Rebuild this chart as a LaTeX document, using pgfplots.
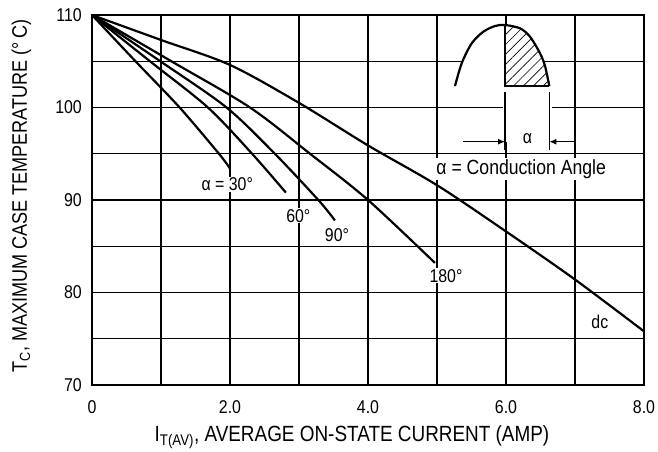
\documentclass[border=0pt]{standalone}
\usepackage{fontspec}
\setmainfont[FakeStretch=0.86]{Liberation Sans}
\usepackage{pgfplots}
\pgfplotsset{compat=1.18}
\usetikzlibrary{patterns.meta,arrows.meta}
\begin{document}
\begin{tikzpicture}
\begin{axis}[
  scale only axis, width=552bp, height=370bp,
  xmin=0, xmax=8, ymin=70, ymax=110,
  xtick={0,1,...,8}, xticklabels={0,,2.0,,4.0,,6.0,,8.0},
  ytick={70,75,...,110}, yticklabels={70,,80,,90,,100,,110},
  grid=major, major grid style={black, line width=1.1bp},
  major tick length=0pt,
  axis line style={line width=1.5bp},
  tick label style={font=\fontsize{18.5bp}{20bp}\selectfont, inner sep=0pt},
  xticklabel style={anchor=north, yshift=-15bp},
  yticklabel style={anchor=east, xshift=-10bp},
  xlabel={I\textsubscript{T(AV)}, AVERAGE ON-STATE CURRENT (AMP)},
  ylabel={T\textsubscript{C}, MAXIMUM CASE TEMPERATURE (°\,C)},
  xlabel style={font=\fontsize{22bp}{24bp}\selectfont, at={(axis description cs:0.471,-0.1514)}, anchor=base},
  ylabel style={font=\fontsize{21bp}{23bp}\selectfont, at={(axis description cs:-0.1178,0.511)}, anchor=base},
  every axis plot/.append style={black, line width=2.2bp},
]
% curves
\addplot[smooth] coordinates {(0,110) (0.63,105) (1.27,100) (1.84,95) (2.0,93.4)};
\addplot[smooth] coordinates {(0,110) (0.84,105) (1.68,100) (2.32,95) (2.81,90.8)};
\addplot[smooth] coordinates {(0,110) (0.99,105) (1.95,100) (2.65,95) (3.28,90) (3.52,87.8)};
\addplot[smooth] coordinates {(0,110) (1.15,105) (2.29,100) (3.16,95) (4.0,90) (4.97,83.2)};
\addplot[smooth] coordinates {(0,110) (1,107.3) (2,104.6) (3,100.5) (4,95.9) (5,91.6) (6,86.6) (7,81.4) (8,75.8)};
% inset: white backgrounds
\addplot[fill=white, draw=none] coordinates {(5.95,96.3) (5.95,102.32) (6.66,102.32) (6.66,96.3)};
\addplot[fill=white, draw=none] coordinates {(5.261,102.32) (5.358,104.78) (5.503,106.94) (5.671,108.19) (5.841,108.81) (5.986,108.92) (6.203,108.56) (6.348,107.65) (6.493,105.86) (6.565,104.49) (6.628,102.32)};
% hatched area
\addplot[draw=none, pattern={Lines[angle=45,distance=7bp,line width=0.7bp]}] coordinates {(5.986,102.32) (5.986,108.92) (6.203,108.56) (6.348,107.65) (6.493,105.86) (6.565,104.49) (6.628,102.32)};
% sine arc
\addplot[smooth] coordinates {(5.261,102.32) (5.358,104.78) (5.503,106.94) (5.671,108.19) (5.841,108.81) (5.986,108.92) (6.203,108.56) (6.348,107.65) (6.493,105.86) (6.565,104.49) (6.628,102.32)};
\addplot[line width=1.8bp] coordinates {(5.986,108.92) (5.986,102.32) (6.628,102.32)};
% extension lines
\addplot[line width=1.1bp] coordinates {(5.986,101.7) (5.986,95.4)};
\addplot[line width=1.1bp] coordinates {(6.628,101.7) (6.628,95.4)};
% arrows
\addplot[line width=1.1bp, -{Latex[length=7bp,width=6bp]}] coordinates {(5.38,96.3) (5.986,96.3)};
\addplot[line width=1.1bp, -{Latex[length=7bp,width=6bp]}] coordinates {(7.0,96.3) (6.628,96.3)};
% labels
\begin{scope}[every node/.style={fill=white, inner sep=1bp, font=\fontsize{18.5bp}{20bp}\selectfont}]
\node at (axis cs:1.96,91.7) {α = 30°};
\node at (axis cs:2.99,88.3) {60°};
\node at (axis cs:3.55,86.2) {90°};
\node at (axis cs:5.13,81.8) {180°};
\node at (axis cs:7.36,76.8) {dc};
\node at (axis cs:6.31,96.6) {α};
\node[font=\fontsize{20.5bp}{22bp}\selectfont] at (axis cs:6.22,93.35) {α = Conduction Angle};
\end{scope}
\coordinate (bl) at (rel axis cs:0,0);
\coordinate (tr) at (rel axis cs:1,1);
\end{axis}
\pgfresetboundingbox
\path ([shift={(-92bp,-66bp)}]bl) rectangle ([shift={(14bp,15bp)}]tr);
\end{tikzpicture}
\end{document}
